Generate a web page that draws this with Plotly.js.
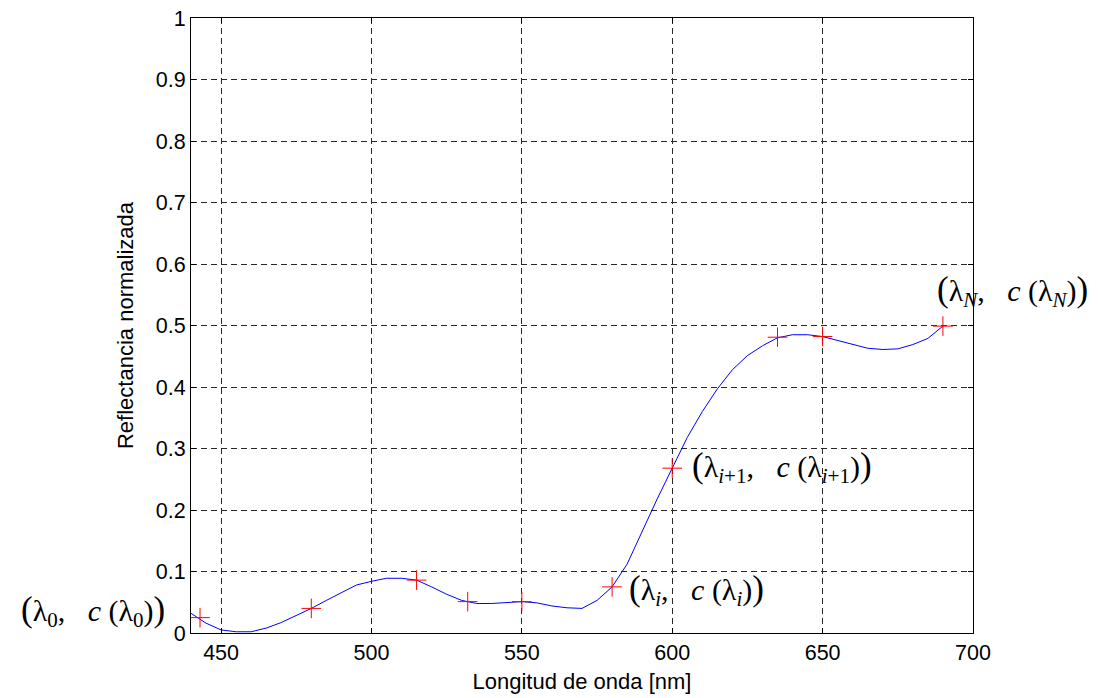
<!DOCTYPE html>
<html>
<head>
<meta charset="utf-8">
<script src="https://cdn.plot.ly/plotly-3.0.1.min.js"></script>
<style>html,body{margin:0;padding:0;background:#fff;}#chart{width:1098px;height:698px;}</style>
</head>
<body>
<div id="chart"></div>
<script>
// Interpolated reflectance curve (wavelength in nm)
const curveWavelength = [440,445,450,455,460,465,470,475,480,485,490,495,500,505,510,515,520,525,530,535,540,545,550,555,560,565,570,575,580,585,590,595,600,605,610,615,620,625,630,635,640,645,650,655,660,665,670,675,680,685,690];
const curveReflectance = [0.032,0.016,0.005,0.002,0.002,0.008,0.017,0.028,0.040,0.053,0.066,0.078,0.084,0.089,0.089,0.086,0.075,0.063,0.053,0.048,0.048,0.050,0.051,0.049,0.044,0.041,0.040,0.053,0.075,0.112,0.165,0.218,0.268,0.318,0.360,0.397,0.428,0.451,0.467,0.480,0.485,0.485,0.482,0.476,0.469,0.463,0.461,0.462,0.469,0.479,0.499];

// Sample points (red crosses)
const sampleWavelength = [443,480,515,532,550,580,600,635,650,690];
const sampleReflectance = [0.025,0.040,0.086,0.051,0.051,0.075,0.268,0.481,0.482,0.499];

// Tick labels
const xTickVals = [450,500,550,600,650,700];
const xTickText = ["450","500","550","600","650","700"];
const yTickVals = [0,0.1,0.2,0.3,0.4,0.5,0.6,0.7,0.8,0.9,1];
const yTickText = ["0","0.1","0.2","0.3","0.4","0.5","0.6","0.7","0.8","0.9","1"];

// Annotation labels
const labelTexts = [
  "<span style='font-size:35px'>(</span>λ<sub>0</sub>,   <i>c</i> (λ<sub>0</sub>)<span style='font-size:35px'>)</span>",
  "<span style='font-size:35px'>(</span>λ<sub><i>i</i></sub>,   <i>c</i> (λ<sub><i>i</i></sub>)<span style='font-size:35px'>)</span>",
  "<span style='font-size:35px'>(</span>λ<sub><i>i</i>+1</sub>,   <i>c</i> (λ<sub><i>i</i>+1</sub>)<span style='font-size:35px'>)</span>",
  "<span style='font-size:35px'>(</span>λ<sub><i>N</i></sub>,   <i>c</i> (λ<sub><i>N</i></sub>)<span style='font-size:35px'>)</span>"
];

const serif = {family: "Liberation Serif, DejaVu Serif, serif", size: 30, color: "#000"};
const sans = "Liberation Sans, Arial, sans-serif";

const traces = [
  {x: curveWavelength, y: curveReflectance, type: "scatter", mode: "lines",
   line: {color: "#0000ff", width: 1}, hoverinfo: "skip", showlegend: false, cliponaxis: true},
  {x: sampleWavelength, y: sampleReflectance, type: "scatter", mode: "markers",
   marker: {symbol: "cross-thin", size: 14, line: {color: "#ff0000", width: 1}, color: "#ff0000"},
   showlegend: false, cliponaxis: false}
];

const gridColor = "rgb(40,40,40)";
const axisCommon = {
  showline: true, linecolor: "#000", linewidth: 1, mirror: "ticks",
  ticks: "inside", ticklen: 5, tickcolor: "#000", tickwidth: 1,
  showgrid: true, gridcolor: gridColor, griddash: "6px,4px", gridwidth: 1,
  zeroline: false,
  tickfont: {family: sans, size: 21.5, color: "#000"}
};

const layout = {
  width: 1098, height: 698,
  margin: {l: 191, r: 125, t: 18, b: 65},
  paper_bgcolor: "#fff", plot_bgcolor: "#fff",
  showlegend: false,
  xaxis: Object.assign({}, axisCommon, {
    range: [440, 700], tickvals: xTickVals, ticktext: xTickText,
    title: {text: "Longitud de onda [nm]", font: {family: sans, size: 22, color: "#000"}, standoff: 9}
  }),
  yaxis: Object.assign({}, axisCommon, {
    range: [0, 1], tickvals: yTickVals, ticktext: yTickText,
    title: {text: "Reflectancia normalizada", font: {family: sans, size: 22, color: "#000"}, standoff: 16}
  }),
  annotations: [
    {text: labelTexts[0], xref: "paper", yref: "y", x: -0.031, y: 0.035, xanchor: "right", yanchor: "middle", showarrow: false, font: serif},
    {text: labelTexts[1], xref: "x", yref: "y", x: 585, y: 0.07, xanchor: "left", yanchor: "middle", showarrow: false, font: serif},
    {text: labelTexts[2], xref: "x", yref: "y", x: 606, y: 0.27, xanchor: "left", yanchor: "middle", showarrow: false, font: serif},
    {text: labelTexts[3], xref: "paper", yref: "y", x: 0.951, y: 0.556, xanchor: "left", yanchor: "middle", showarrow: false, font: serif}
  ]
};

Plotly.newPlot("chart", traces, layout, {displayModeBar: false, staticPlot: true});
</script>
</body>
</html>
